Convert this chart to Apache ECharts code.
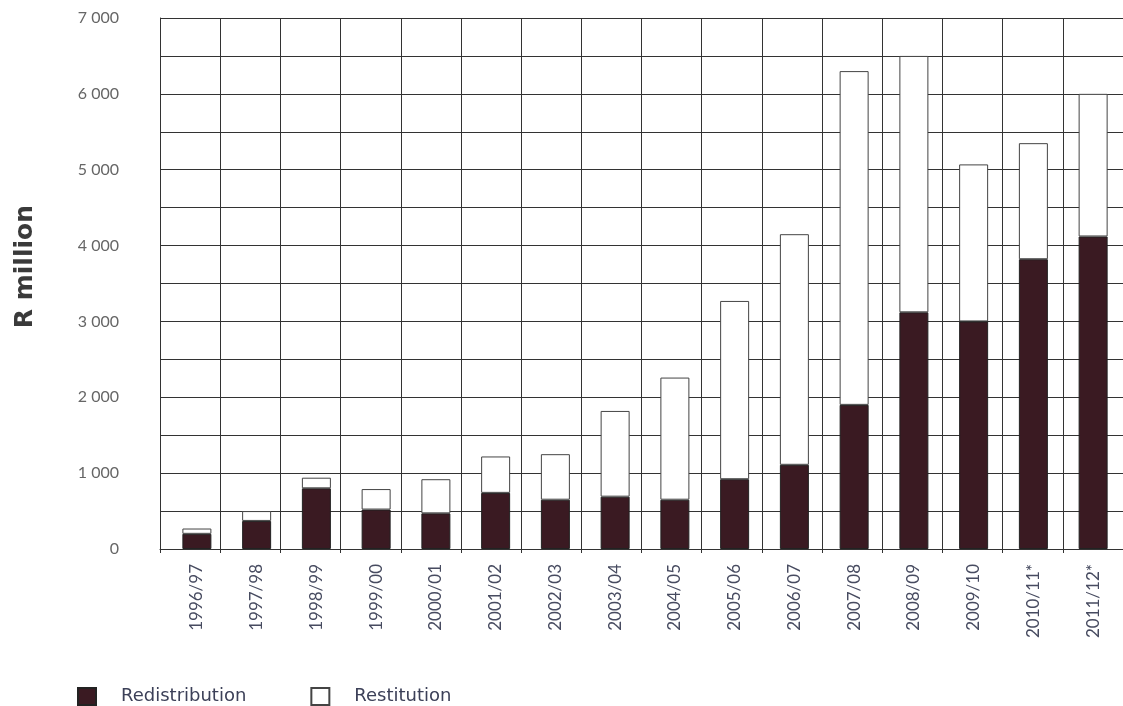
<!DOCTYPE html>
<html>
<head>
<meta charset="utf-8">
<script src="https://cdn.jsdelivr.net/npm/echarts@6/dist/echarts.min.js"></script>
<style>html,body{margin:0;padding:0;background:#fff}#c{width:1123px;height:706px}</style>
</head>
<body>
<div id="c"></div>
<script>
const categories = ['1996/97','1997/98','1998/99','1999/00','2000/01','2001/02','2002/03','2003/04','2004/05','2005/06','2006/07','2007/08','2008/09','2009/10','2010/11*','2011/12*'];
const redistribution = [200, 370, 800, 520, 470, 740, 650, 690, 650, 920, 1110, 1900, 3120, 3000, 3820, 4120];
const restitution = [70, 130, 140, 270, 450, 480, 600, 1130, 1610, 2350, 3040, 4400, 3380, 2070, 1530, 1880];
const yTicks = [0, 1000, 2000, 3000, 4000, 5000, 6000, 7000];
const yLabels = ['0', '1 000', '2 000', '3 000', '4 000', '5 000', '6 000', '7 000'];

const chart = echarts.init(document.getElementById('c'), null, {renderer: 'canvas'});
const font = 'Lato, "Open Sans", sans-serif';
const wide = '"DejaVu Sans", sans-serif';
chart.setOption({
  animation: false,
  backgroundColor: '#ffffff',
  grid: [
    {left: 160, top: 18, width: 968, bottom: 157},
    {left: 167, top: 18, width: 959, bottom: 157}
  ],
  legend: {
    left: 72, top: 682,
    itemWidth: 18, itemHeight: 17, itemGap: 64,
    icon: 'rect',
    textStyle: {fontFamily: wide, fontSize: 18, color: '#3c4058', padding: [0, 0, 0, 20]},
    data: ['Redistribution', 'Restitution']
  },
  xAxis: [
    {
      type: 'category', gridIndex: 0, data: categories, boundaryGap: true,
      axisLine: {show: true, lineStyle: {color: '#333', width: 1}},
      axisTick: {show: true, length: 4, interval: 0, lineStyle: {color: '#333'}},
      axisLabel: {show: false},
      splitLine: {show: true, interval: 0, lineStyle: {color: '#333', width: 1}}
    },
    {
      type: 'category', gridIndex: 1, data: categories, boundaryGap: true,
      axisLine: {show: false}, axisTick: {show: false},
      axisLabel: {rotate: 90, margin: 15, fontFamily: font, fontSize: 17, color: '#474b60', interval: 0},
      splitLine: {show: false}
    }
  ],
  yAxis: [
    {
      type: 'value', gridIndex: 0, min: 0, max: 7000, interval: 500,
      axisLine: {show: true, lineStyle: {color: '#333', width: 1}},
      axisTick: {show: false},
      axisLabel: {
        margin: 41, fontFamily: font, fontSize: 16, color: '#666',
        formatter: function (v) { const i = yTicks.indexOf(v); return i >= 0 ? yLabels[i] : ''; }
      },
      splitLine: {show: true, lineStyle: {color: '#333', width: 1}}
    },
    {
      type: 'value', gridIndex: 1, min: 0, max: 7000, interval: 500,
      show: false, splitLine: {show: false}
    }
  ],
  graphic: [{
    type: 'text', left: 13, top: 205, rotation: Math.PI / 2,
    style: {text: 'R million', fontFamily: wide, fontSize: 25, fontWeight: 'bold', fill: '#3a3a3a'}
  }],
  series: [
    {
      name: 'Redistribution', type: 'bar', stack: 'a', xAxisIndex: 1, yAxisIndex: 1,
      barWidth: 29, data: redistribution,
      itemStyle: {color: '#3a1a22', borderColor: '#222', borderWidth: 1}
    },
    {
      name: 'Restitution', type: 'bar', stack: 'a', xAxisIndex: 1, yAxisIndex: 1,
      barWidth: 29, data: restitution,
      itemStyle: {color: '#ffffff', borderColor: '#444', borderWidth: 1}
    }
  ]
});
</script>
</body>
</html>
